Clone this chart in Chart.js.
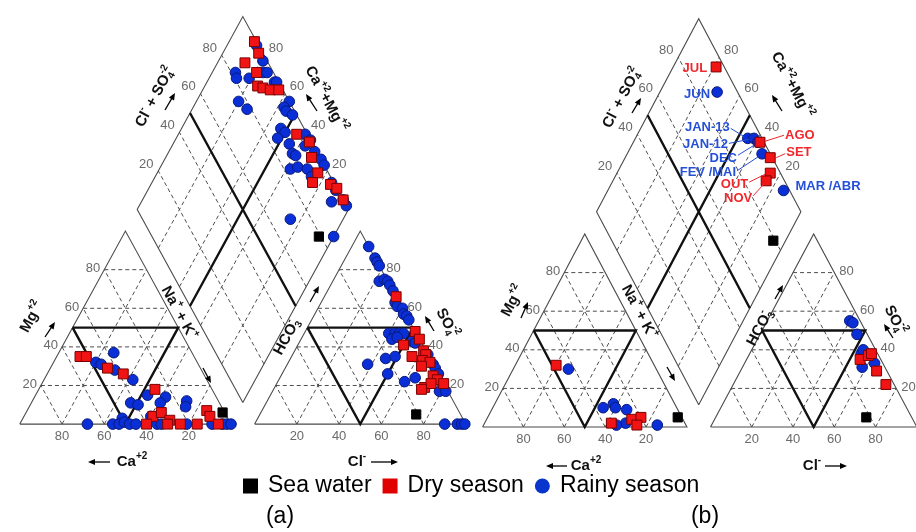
<!DOCTYPE html>
<html>
<head>
<meta charset="utf-8">
<script src="https://cdn.jsdelivr.net/npm/chart.js@4.4.1/dist/chart.umd.min.js"></script>
<style>
  html, body { margin: 0; padding: 0; background: #fff; overflow: hidden; }
  #wrap { width: 916px; height: 532px; position: relative; }
</style>
</head>
<body>
<div id="wrap"><canvas id="piper"></canvas></div>
<script>
// values, % of meq/L
// cation triangle points: [Ca, Mg]
const catRainA = [[37,37],[48,32],[46,31],[41,28],[35,23],[32,15],[24,14],[42,11],[39,10],[15,12],[17,9],[28,11],[50,3],[36,4],
  [68,0],[56,0],[53,0],[50,1],[48,0],[45,0],[35,0],[33,0],[21,0],[9,0],[4,0],[2,0],[0,0]];
const catDryA = [[54,35],[51,35],[44,29],[38,26],[27,18],[8,7],[8,4],[35,4],[30,6],[28,2],[40,0],[30,0],[24,0],[16,0],[6,0]];
const catSeaA = [[1,6]];
// anion triangle points: [Cl, SO4]
const anRainA = [[8,92],[14,86],[16,84],[18,82],[22,74],[24,75],[26,74],[28,72],[31,69],[35,63],[37,61],[40,60],[42,57],[44,56],[46,54],
  [40,47],[43,47],[45,47],[47,47],[43,44],[45,45],[53,43],[55,42],[38,31],[45,34],[49,35],[50,26],[60,22],[64,24],[64,36],[69,31],
  [71,29],[74,26],[79,17],[82,17],[90,0],[96,0],[98,0],[99.5,0]];
const anDryA = [[34,66],[52,48],[56,44],[50,41],[57,35],[61,38],[63,36],[63,33],[67,32],[64,30],[72,25],[75,23],[79,21],[71,19],[73,21],[70,18]];
const anSeaA = [[74,5]];
// diamond points: [Cl+SO4, Ca+Mg]
const dmRainA = [[99,86],[98,79],[82,89],[81,87],[87,81],[95,76],[97,74],[98,68],[99,67],[76,80],[78,74],[100,56],[96,57],[96,55],
  [98,51],[89,53],[90,50],[85,52],[89,45],[88,41],[89,39],[83,38],[87,35],[99,40],[100,36],[96,37],[99,31],[100,26],[100,23],
  [91,30],[91,26],[99,15],[99,11],[94,10],[100,5],[100,2],[70,25],[86,0]];
const dmDryA = [[99,88],[98,83],[89,87],[92,79],[89,75],[91,72],[94,68],[98,64],[95,44],[99,36],[96,31],[95,24],[90,24],[98,15],[100,11],[100,5]];
const dmSeaA = [[79,7]];

const catRainB = [[43,30],[36,10],[30,12],[30,10],[25,9],[29,2],[34,1],[14,1]];
const catDryB = [[48,32],[36,2],[25,4],[20,5],[24,1]];
const catSeaB = [[2,5]];
const anRainB = [[40,55],[42,54],[47,48],[54,38],[54,40],[58,31],[63,33]];
const anDryB = [[55,35],[58,37],[59,38],[66,29],[74,22]];
const anSeaB = [[73,5]];
const dmRainB = [[90,72],[93,45],[96,42],[97,39],[96,34],[97,14]];
const rainMonthsB = ['JUN', 'JAN-13', 'JAN-12', 'DEC', 'FEV /MAI', 'MAR /ABR'];
const dmDryB = [[96,79],[98,38],[99,29],[95,25],[91,25]];
const dryMonthsB = ['JUL', 'AGO', 'SET', 'OUT', 'NOV'];
const dmSeaB = [[79,6]];

const tickValues = [20, 40, 60, 80];
const legendLabels = ['Sea water', 'Dry season', 'Rainy season'];

// layout of the two diagrams (pixels)
const geoA = { x0: 12, base: 429, w: 215, aw: 215, h: 199, gap: 24 };
const geoB = { x0: 483, base: 432, w: 208, aw: 210, h: 199, gap: 24 };

const RED = '#f01414', RED_EDGE = '#7a0000', BLUE = '#0b2fd6', BLUE_EDGE = '#08197a';
const LABEL_RED = '#f0282d', LABEL_BLUE = '#2450d8';
const FONT = '"Liberation Sans", Arial, sans-serif';

function catXY(g, ca, mg) {
  const na = 100 - ca - mg;
  return { x: g.x0 + g.w * (na + mg / 2) / 100, y: g.base - g.h * mg / 100 };
}
function anXY(g, cl, so4) {
  const ox = g.x0 + g.w + g.gap;
  return { x: ox + g.aw * (cl + so4 / 2) / 100, y: g.base - g.h * so4 / 100 };
}
function dmXY(g, a, c) {
  const cx = g.x0 + g.w + g.gap / 2;
  const by = g.base - (g.gap / 2) * g.h / (g.w / 2);
  return { x: cx + (g.w / 2) * (a - c) / 100, y: by - g.h * (a + c) / 100 };
}

function gridFor(g) {
  const outline = [], dash = [], thick = [];
  const gap = { x: NaN, y: NaN };
  const poly = (arr, pts) => { pts.forEach(p => arr.push(p)); arr.push(gap); };
  // cation
  poly(outline, [catXY(g,100,0), catXY(g,0,0), catXY(g,0,100), catXY(g,100,0)]);
  poly(thick, [catXY(g,50,50), catXY(g,0,50), catXY(g,50,0), catXY(g,50,50)]);
  // anion
  poly(outline, [anXY(g,0,0), anXY(g,100,0), anXY(g,0,100), anXY(g,0,0)]);
  poly(thick, [anXY(g,0,50), anXY(g,50,50), anXY(g,50,0), anXY(g,0,50)]);
  // diamond
  poly(outline, [dmXY(g,0,0), dmXY(g,100,0), dmXY(g,100,100), dmXY(g,0,100), dmXY(g,0,0)]);
  poly(thick, [dmXY(g,50,0), dmXY(g,50,100)]);
  poly(thick, [dmXY(g,0,50), dmXY(g,100,50)]);
  tickValues.forEach(t => {
    poly(dash, [catXY(g,100-t,t), catXY(g,0,t)]);
    poly(dash, [catXY(g,t,0), catXY(g,t,100-t)]);
    poly(dash, [catXY(g,100-t,0), catXY(g,0,100-t)]);
    poly(dash, [anXY(g,0,t), anXY(g,100-t,t)]);
    poly(dash, [anXY(g,t,0), anXY(g,t,100-t)]);
    poly(dash, [anXY(g,100-t,0), anXY(g,0,100-t)]);
    poly(dash, [dmXY(g,t,0), dmXY(g,t,100)]);
    poly(dash, [dmXY(g,0,t), dmXY(g,100,t)]);
  });
  return { outline, dash, thick };
}

function pointsFor(g, cat, an, dm) {
  return cat.map(v => catXY(g, v[0], v[1]))
    .concat(an.map(v => anXY(g, v[0], v[1])))
    .concat(dm.map(v => dmXY(g, v[0], v[1])));
}

const datasets = [];
[[geoA, catRainA, catDryA, catSeaA, anRainA, anDryA, anSeaA, dmRainA, dmDryA, dmSeaA],
 [geoB, catRainB, catDryB, catSeaB, anRainB, anDryB, anSeaB, dmRainB, dmDryB, dmSeaB]].forEach(d => {
  const g = d[0];
  const grid = gridFor(g);
  datasets.push({ label: 'Sea water', data: pointsFor(g, d[3], d[6], d[9]), pointStyle: 'rect', pointRadius: 6.5,
    backgroundColor: '#000', borderColor: '#000', borderWidth: 1, order: 0, clip: false });
  datasets.push({ label: 'Dry season', data: pointsFor(g, d[2], d[5], d[8]), pointStyle: 'rect', pointRadius: 7,
    backgroundColor: RED, borderColor: RED_EDGE, borderWidth: 1, order: 1, clip: false });
  datasets.push({ label: 'Rainy season', data: pointsFor(g, d[1], d[4], d[7]), pointStyle: 'circle', pointRadius: 5.3,
    backgroundColor: BLUE, borderColor: BLUE_EDGE, borderWidth: 1, order: 2, clip: false });
  datasets.push({ data: grid.thick, showLine: true, pointRadius: 0, borderColor: '#111', borderWidth: 2.4, order: 3, clip: false });
  datasets.push({ data: grid.outline, showLine: true, pointRadius: 0, borderColor: '#4a4a4a', borderWidth: 1.1, order: 4, clip: false });
  datasets.push({ data: grid.dash, showLine: true, pointRadius: 0, borderColor: '#4d4d4d', borderWidth: 1, borderDash: [4, 3], order: 5, clip: false });
});

// text helpers
const MG = [['Mg',0],['+2',1]];
const NAK = [['Na',0],['+',1],[' + K',0],['+',1]];
const HCO3 = [['HCO',0],['3',-1,true],['-',1]];
const SO4 = [['SO',0],['4',-1,true],['-2',1]];
const CLSO4 = [['Cl',0],['-',1],[' + SO',0],['4',-1,true],['-2',1]];
const CAMG = [['Ca',0],['+2',1],['+Mg',0],['+2',1]];
const CA = [['Ca',0],['+2',1]];
const CL = [['Cl',0],['-',1]];

const titles = [
  [MG, 32, 317, -61.5], [NAK, 179, 313, 61.5], [HCO3, 287, 337, -61.5], [SO4, 447, 323, 61.5],
  [CLSO4, 155, 97, -61.5], [CAMG, 326, 99, 61.5], [CA, 132, 462, 0], [CL, 357, 462, 0],
  [MG, 513, 301, -62], [NAK, 639, 312, 62], [HCO3, 760, 328, -62], [SO4, 895, 320, 62],
  [CLSO4, 622, 98, -62], [CAMG, 792, 85, 62], [CA, 586, 466, 0], [CL, 812, 466, 0]
];
const arrows = [
  [45,337,55,322], [203,368,211,383], [310,302,319,286], [434,331,425,316], [165,110,175,93], [317,111,306,94],
  [110,462,88,462], [371,462,398,462],
  [521,318,528,302], [667,367,675,381], [775,299,783,285], [893,338,884,324], [632,113,641,98], [782,111,772,95],
  [567,466,546,466], [825,466,847,466]
];
// callout placement relative to each point: [dx, dy, align, leader]
const callout = {
  'JUL': [-9, 1, 'right', null], 'JUN': [-7, 2, 'right', null],
  'JAN-13': [-18, -11, 'right', [-17, -10, -4, -2]], 'JAN-12': [-26, 6, 'right', [-25, 5, -5, 1]],
  'DEC': [-21, 16, 'right', [-20, 13, -4, 3]], 'FEV /MAI': [-26, 19, 'right', [-25, 17, -4, 3]],
  'MAR /ABR': [12, -4, 'left', null], 'AGO': [25, -7, 'left', [24, -7, 5, -1]],
  'SET': [16, -5, 'left', [15, -4, 6, 0]], 'OUT': [-22, 11, 'right', [-21, 9, -5, 1]],
  'NOV': [-14, 18, 'right', [-13, 15, -3, 4]]
};

function richText(ctx, parts, x, y, angle, size, color) {
  const big = 'bold ' + size + 'px ' + FONT, small = 'bold ' + Math.round(size * 0.66) + 'px ' + FONT;
  ctx.save();
  ctx.translate(x, y);
  ctx.rotate(angle * Math.PI / 180);
  ctx.fillStyle = color;
  ctx.textBaseline = 'middle';
  ctx.textAlign = 'left';
  const layout = [];
  let w = 0, held = 0;
  parts.forEach(p => {
    ctx.font = p[1] ? small : big;
    const pw = ctx.measureText(p[0]).width;
    layout.push(w);
    if (p[2]) { held = pw; } else { w += Math.max(pw, held); held = 0; }
  });
  parts.forEach((p, i) => {
    ctx.font = p[1] ? small : big;
    const dy = p[1] === 1 ? -size * 0.38 : p[1] === -1 ? size * 0.3 : 0;
    ctx.fillText(p[0], layout[i] - w / 2, dy);
  });
  ctx.restore();
}

function arrow(ctx, x1, y1, x2, y2) {
  const a = Math.atan2(y2 - y1, x2 - x1);
  ctx.save();
  ctx.strokeStyle = '#000'; ctx.fillStyle = '#000'; ctx.lineWidth = 1.3;
  ctx.beginPath(); ctx.moveTo(x1, y1); ctx.lineTo(x2 - 4 * Math.cos(a), y2 - 4 * Math.sin(a)); ctx.stroke();
  ctx.beginPath();
  ctx.moveTo(x2, y2);
  ctx.lineTo(x2 - 7 * Math.cos(a) + 3 * Math.sin(a), y2 - 7 * Math.sin(a) - 3 * Math.cos(a));
  ctx.lineTo(x2 - 7 * Math.cos(a) - 3 * Math.sin(a), y2 - 7 * Math.sin(a) + 3 * Math.cos(a));
  ctx.closePath(); ctx.fill();
  ctx.restore();
}

const piperDecor = {
  id: 'piperDecor',
  afterDatasetsDraw(chart) {
    const ctx = chart.ctx;
    const sx = chart.scales.x, sy = chart.scales.y;
    const px = p => ({ x: sx.getPixelForValue(p.x), y: sy.getPixelForValue(p.y) });

    // tick labels
    ctx.save();
    ctx.font = '13px ' + FONT;
    ctx.fillStyle = '#6a6a6a';
    ctx.textBaseline = 'middle';
    [geoA, geoB].forEach(g => {
      tickValues.forEach(t => {
        let p = px(catXY(g, 100 - t, t)); ctx.textAlign = 'right'; ctx.fillText(String(t), p.x - 4, p.y - 1);
        p = px(catXY(g, t, 0)); ctx.textAlign = 'center'; ctx.fillText(String(t), p.x, p.y + 12);
        p = px(anXY(g, 100 - t, t)); ctx.textAlign = 'left'; ctx.fillText(String(t), p.x + 5, p.y - 1);
        p = px(anXY(g, t, 0)); ctx.textAlign = 'center'; ctx.fillText(String(t), p.x, p.y + 12);
        p = px(dmXY(g, t, 100)); ctx.fillText(String(t), p.x - 12, p.y - 7);
        p = px(dmXY(g, 100, t)); ctx.fillText(String(t), p.x + 12, p.y - 7);
      });
    });
    ctx.restore();

    titles.forEach(t => richText(ctx, t[0], t[1], t[2], t[3], 15, '#111'));
    arrows.forEach(a => arrow(ctx, a[0], a[1], a[2], a[3]));

    // month callouts on diagram (b)
    ctx.save();
    ctx.font = 'bold 13px ' + FONT;
    ctx.textBaseline = 'middle';
    [[dmRainB, rainMonthsB, LABEL_BLUE], [dmDryB, dryMonthsB, LABEL_RED]].forEach(set => {
      set[0].forEach((v, i) => {
        const p = px(dmXY(geoB, v[0], v[1]));
        const c = callout[set[1][i]];
        ctx.fillStyle = set[2]; ctx.strokeStyle = set[2]; ctx.lineWidth = 1;
        ctx.textAlign = c[2];
        ctx.fillText(set[1][i], p.x + c[0], p.y + c[1]);
        if (c[3]) {
          ctx.beginPath();
          ctx.moveTo(p.x + c[3][0], p.y + c[3][1]);
          ctx.lineTo(p.x + c[3][2], p.y + c[3][3]);
          ctx.stroke();
        }
      });
    });
    ctx.restore();

    // legend and panel letters
    ctx.save();
    ctx.font = '23px ' + FONT;
    ctx.textBaseline = 'middle';
    ctx.textAlign = 'left';
    let lx = 243;
    const ly = 486;
    const swatch = [['#000', 'rect'], ['#e00000', 'rect'], ['#0a35cc', 'circle']];
    legendLabels.forEach((lab, i) => {
      ctx.fillStyle = swatch[i][0];
      if (swatch[i][1] === 'rect') ctx.fillRect(lx, ly - 7.5, 15, 15);
      else { ctx.beginPath(); ctx.arc(lx + 7.5, ly, 7.5, 0, Math.PI * 2); ctx.fill(); }
      lx += 25;
      ctx.fillStyle = '#000';
      ctx.fillText(lab, lx, ly);
      lx += ctx.measureText(lab).width + 11;
    });
    ctx.textAlign = 'center';
    ctx.fillText('(a)', 280, 517);
    ctx.fillText('(b)', 705, 517);
    ctx.restore();
  }
};

new Chart(document.getElementById('piper').getContext('2d'), {
  type: 'scatter',
  data: { datasets: datasets },
  options: {
    responsive: true,
    maintainAspectRatio: false,
    animation: false,
    events: [],
    layout: { padding: 0 },
    plugins: { legend: { display: false }, tooltip: { enabled: false } },
    scales: {
      x: { type: 'linear', min: 0, max: 916, display: false },
      y: { type: 'linear', min: 0, max: 532, reverse: true, display: false }
    }
  },
  plugins: [piperDecor]
});
</script>
</body>
</html>
